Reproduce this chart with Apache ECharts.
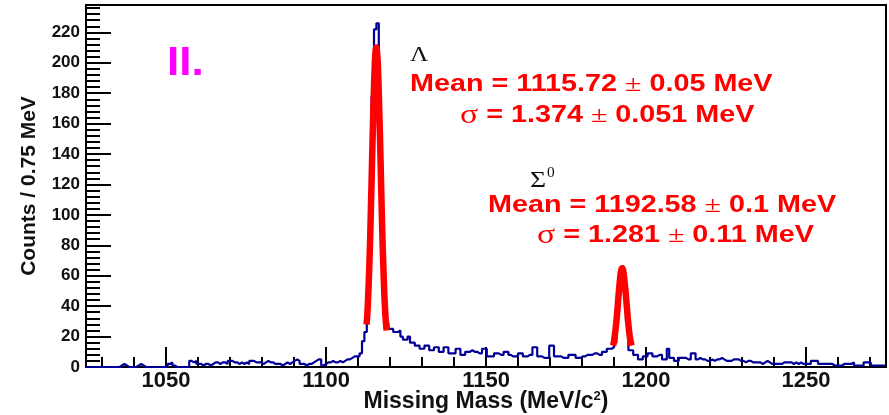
<!DOCTYPE html>
<html><head><meta charset="utf-8">
<script src="https://cdn.jsdelivr.net/npm/echarts@6/dist/echarts.min.js"></script>
<style>html,body{margin:0;padding:0;background:#fff}#c{width:889px;height:415px}</style>
</head><body><div id="c"></div>
<script>
// ---- data ----
const massMin = 1025, massMax = 1275, binWidth = 0.75, yMax = 238;
const counts = [
  0,0,0,0,0,0,0,0,0,0,0,0,0,0, 1,2,1, 0,0,0,0, 1,2,1, 0,0,0,0,0,0,0,0,0,0,
  2,3,1, 0,0,0,0,0,0, 4,3,4, 2,2,1,2,2,1,2, 3,3,2,3,3,2, 4,4,3, 3,2,3,2,3,2,
  4,4,3, 3,3,2, 3,4,3,3,2, 2,2,1,2,3,2, 3,4,5,4, 2,2,1,2,2, 3,4,5,5, 1,2,3,
  3,4,3,3,4,3,4, 5,5,6, 7,7, 7,9, 17,23,
  42,100,178,222,226,158,92,34,29,
  25,25, 23,23, 24, 20, 18,18, 20, 16,16, 14,14, 12,12, 14,14, 11,11, 13,13,
  10,10, 13,13, 9,9,9, 12,12, 8,8, 10,10,11,10,10, 9, 9,12,12, 7,7,7,
  9,9, 8,8, 10,10, 8, 7,7,7, 9,9, 7,7, 8,8, 13,13, 7,7, 6,6,6, 14,14, 7,7,7,
  6,6,6, 8,8,8, 6,6, 7,7, 8,8,8, 9,9, 8,8, 10,10, 12,12, 13,
  16,38,60,66,52,30,11,11,
  8,8, 5,5, 7,7, 9,9, 7,7, 8,8, 5,5, 12, 6,6, 4,4, 6,6,6, 5,5, 9,9,
  5,6,5,5, 4,4,5,4, 5,5,6,5, 4,4,4, 5,5,5, 4,4,3,4,4, 3,3,3, 3,2,3,4,3,2,
  2,2,2,2, 3,3,3,3, 2,3,2,3, 2,2,2,2, 4,4,4, 2,2,2,2,2,2, 1,1,1,1, 2,2,2,2, 3,
  1,1,1,1, 3,3,3, 1,1,1,1,1,1
];
const lambdaFitX = [1112.7,1113.0,1113.5,1114.0,1114.5,1115.0,1115.2,1115.4,1115.72,1116.0,1116.25,1116.5,1117.0,1117.5,1118.0,1118.5,1118.95];
const lambdaFitY = [28,38,64,101,145,184,196,205,210,206,196,180,140,96,61,36,24];
const sigmaFitX = [1189.7,1190.0,1190.5,1191.0,1191.5,1192.0,1192.3,1192.58,1192.9,1193.5,1194.0,1194.5,1195.0,1195.5];
const sigmaFitY = [14,17,25,36,49,60,64,65,63,52,40,28,19,14];
const xMajorTicks = [1050,1100,1150,1200,1250];
const xMinorTicks = [1030,1040,1050,1060,1070,1080,1090,1100,1110,1120,1130,1140,1150,1160,1170,1180,1190,1200,1210,1220,1230,1240,1250,1260,1270];
const yMajorTicks = [0,20,40,60,80,100,120,140,160,180,200,220];
const yMinorTicks = [0,4,8,12,16,20,24,28,32,36,40,44,48,52,56,60,64,68,72,76,80,84,88,92,96,100,104,108,112,116,120,124,128,132,136,140,144,148,152,156,160,164,168,172,176,180,184,188,192,196,200,204,208,212,216,220,224,228,232,236];

// ---- build ----
const histData = counts.map((c, i) => [massMin + i * binWidth, c]);
histData.push([massMin + counts.length * binWidth, counts[counts.length - 1]]);
const zip = (a, b) => a.map((v, i) => [v, b[i]]);

const gridRect = {left: 86, right: 3, top: 5, bottom: 48, outerBoundsMode: 'none', containLabel: false};
const black = '#000';
const plain = v => String(v);
const chart = echarts.init(document.getElementById('c'), null, {renderer: 'canvas'});
const ann = (x, y, text, size, color, sx, extra) => Object.assign({
  type: 'text', x: x, y: y, scaleX: sx, z: 10,
  style: Object.assign({
    text: text, x: 0, y: 0, fill: color, align: 'left', verticalAlign: 'middle',
    font: 'bold ' + size + 'px "Liberation Sans", Arial, sans-serif',
    rich: {
      pm: {fontFamily: '"Liberation Serif", serif', fontWeight: 'normal', fontSize: size + 1, fill: color},
      sg: {fontFamily: '"Liberation Serif", serif', fontWeight: 'normal', fontSize: size + 4, fill: color}
    }
  }, extra || {})
});

chart.setOption({
  animation: false,
  backgroundColor: '#fff',
  grid: [
    Object.assign({show: true, borderColor: black, borderWidth: 2, backgroundColor: 'transparent'}, gridRect),
    Object.assign({show: false}, gridRect)
  ],
  xAxis: [{
    type: 'value', gridIndex: 0, min: massMin, max: massMax,
    axisLine: {show: true, lineStyle: {color: black, width: 2}},
    axisTick: {show: true, inside: true, length: 20, customValues: xMajorTicks, lineStyle: {color: black, width: 2}},
    axisLabel: {customValues: xMajorTicks, formatter: plain, fontSize: 22, fontWeight: 'bold', fontFamily: '"Liberation Sans", Arial', color: '#111', margin: 3},
    splitLine: {show: false},
    name: 'Missing Mass (MeV/c{sup|2})', nameLocation: 'middle', nameGap: 23, nameMoveOverlap: false,
    nameTextStyle: {fontSize: 23, lineHeight: 24, fontWeight: 'bold', fontFamily: '"Liberation Sans", Arial', color: '#111',
      rich: {sup: {fontSize: 13, lineHeight: 24, fontWeight: 'bold', fontFamily: '"Liberation Sans", Arial', color: '#111', verticalAlign: 'top', padding: [0, 0, 8, 0]}}}
  }, {
    type: 'value', gridIndex: 1, min: massMin, max: massMax,
    axisLine: {show: false},
    axisTick: {show: true, inside: true, length: 10, customValues: xMinorTicks, lineStyle: {color: black, width: 2}},
    axisLabel: {show: false}, splitLine: {show: false}
  }],
  yAxis: [{
    type: 'value', gridIndex: 0, min: 0, max: yMax,
    axisLine: {show: true, lineStyle: {color: black, width: 2}},
    axisTick: {show: true, inside: true, length: 25, customValues: yMajorTicks, lineStyle: {color: black, width: 2}},
    axisLabel: {customValues: yMajorTicks, formatter: plain, fontSize: 17, fontWeight: 'bold', fontFamily: '"Liberation Sans", Arial', color: '#111', margin: 6},
    splitLine: {show: false},
    name: 'Counts / 0.75 MeV', nameLocation: 'middle', nameRotate: 90, nameGap: 46, nameMoveOverlap: false,
    nameTextStyle: {fontSize: 21, fontWeight: 'bold', fontFamily: '"Liberation Sans", Arial', color: '#111'}
  }, {
    type: 'value', gridIndex: 1, min: 0, max: yMax,
    axisLine: {show: false},
    axisTick: {show: true, inside: true, length: 14, customValues: yMinorTicks, lineStyle: {color: black, width: 2}},
    axisLabel: {show: false}, splitLine: {show: false}
  }],
  series: [{
    type: 'line', xAxisIndex: 0, yAxisIndex: 0, step: 'end', data: histData,
    symbol: 'none', lineStyle: {color: '#000099', width: 2.2}, z: 2
  }, {
    type: 'line', xAxisIndex: 0, yAxisIndex: 0, smooth: true, data: zip(lambdaFitX, lambdaFitY),
    symbol: 'none', lineStyle: {color: '#ff0000', width: 6.5, cap: 'butt'}, z: 3
  }, {
    type: 'line', xAxisIndex: 0, yAxisIndex: 0, smooth: true, data: zip(sigmaFitX, sigmaFitY),
    symbol: 'none', lineStyle: {color: '#ff0000', width: 6.5, cap: 'butt'}, z: 3
  }],
  graphic: [
    ann(167, 64, 'II.', 40, '#ff00ff', 1.1),
    ann(410, 55, 'Λ', 22, '#111', 1.15, {font: '22px "Liberation Serif", serif'}),
    ann(410, 85, 'Mean = 1115.72 {pm|±} 0.05 MeV', 23, '#ff0000', 1.25),
    ann(460, 116, '{sg|σ} = 1.374 {pm|±} 0.051 MeV', 23, '#ff0000', 1.25),
    ann(530, 181, 'Σ', 24, '#111', 1.15, {font: '24px "Liberation Serif", serif'}),
    ann(547, 173, '0', 14, '#111', 1.1, {font: '14px "Liberation Serif", serif'}),
    ann(488, 206, 'Mean = 1192.58 {pm|±} 0.1 MeV', 23, '#ff0000', 1.25),
    ann(537, 236, '{sg|σ} = 1.281 {pm|±} 0.11 MeV', 23, '#ff0000', 1.25)
  ]
});
</script></body></html>
